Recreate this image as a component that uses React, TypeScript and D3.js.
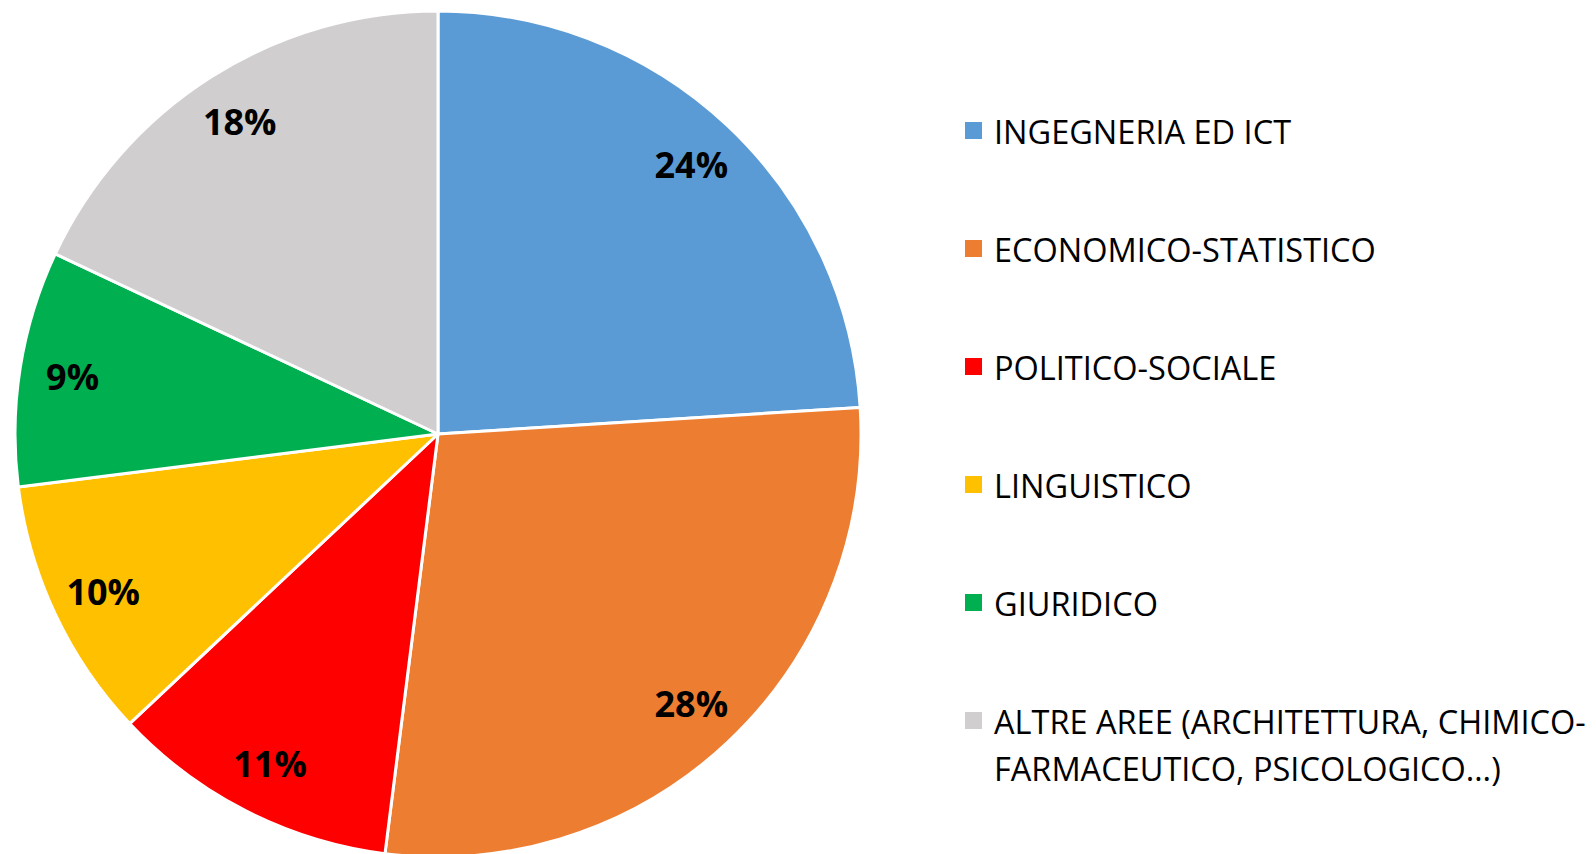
import React from "react";
import * as d3 from "d3";

const categories = [
  "INGEGNERIA ED ICT",
  "ECONOMICO-STATISTICO",
  "POLITICO-SOCIALE",
  "LINGUISTICO",
  "GIURIDICO",
  "ALTRE AREE (ARCHITETTURA, CHIMICO-FARMACEUTICO, PSICOLOGICO…)",
];
const legendLines = [
  ["INGEGNERIA ED ICT"],
  ["ECONOMICO-STATISTICO"],
  ["POLITICO-SOCIALE"],
  ["LINGUISTICO"],
  ["GIURIDICO"],
  ["ALTRE AREE (ARCHITETTURA, CHIMICO-", "FARMACEUTICO, PSICOLOGICO…)"],
];
const values = [24, 28, 11, 10, 9, 18];
const colors = ["#5B9BD5", "#ED7D31", "#FF0000", "#FFC000", "#00B050", "#D0CECE"];

export default function App() {
  const W = 1596, H = 854;
  const cx = 438, cy = 434, R = 423;
  const pie = d3.pie<number>().sort(null).value((d) => d)(values);
  const arc = d3.arc<d3.PieArcDatum<number>>().innerRadius(0).outerRadius(R);
  const labelR = 370;
  const labelArc = d3.arc<d3.PieArcDatum<number>>().innerRadius(labelR * 2 - R).outerRadius(R);
  const total = d3.sum(values);
  const rowY = d3.scaleLinear().domain([0, 1]).range([131, 249]);
  return (
    <svg width={W} height={H} style={{ position: "absolute", left: 0, top: 0, background: "#fff" }}>
      <g transform={`translate(${cx},${cy})`}>
        {pie.map((p, i) => (
          <path key={i} d={arc(p) || ""} fill={colors[i]} stroke="#fff" strokeWidth={3} strokeLinejoin="round" />
        ))}
        {pie.map((p, i) => {
          const [x, y] = labelArc.centroid(p);
          return (
            <text key={i} x={x} y={y} textAnchor="middle" dominantBaseline="central"
              fontFamily="'Open Sans', sans-serif" fontWeight="bold" fontSize={36} fill="#000">
              {`${Math.round((values[i] / total) * 100)}%`}
            </text>
          );
        })}
      </g>
      {categories.map((c, i) => {
        const y = rowY(i);
        return (
          <g key={i}>
            <rect x={965} y={y - 9} width={17} height={17} fill={colors[i]} />
            {legendLines[i].map((line, j) => (
              <text key={j} x={994} y={y + j * 47} dominantBaseline="central"
                fontFamily="'Open Sans', sans-serif" fontSize={32.5} fill="#000">
                {line}
              </text>
            ))}
          </g>
        );
      })}
    </svg>
  );
}
